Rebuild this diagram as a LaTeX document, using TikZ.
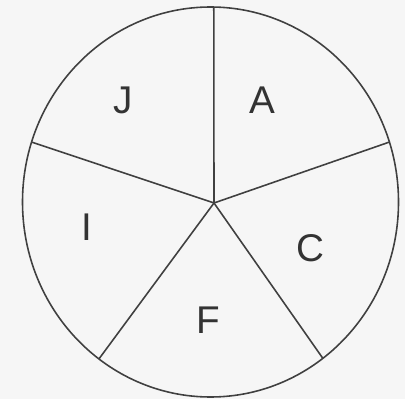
\documentclass[tikz,border=0pt]{standalone}
\usepackage{fontspec}
\setmainfont{Liberation Sans}
\usetikzlibrary{calc}

\begin{document}
\begin{tikzpicture}[x=0.02cm, y=0.02cm, line width=0.9pt]
    \fill[gray!7] (0,0) rectangle (405,399);
    \useasboundingbox (0,0) rectangle (405,399);

    \coordinate (O) at (210.5,197);
    \coordinate (H) at (214,196);

    \coordinate (T) at ($(O)+({188*cos(89)},{195*sin(89)})$);
    \coordinate (R) at ($(O)+({188*cos(17.9)},{195*sin(17.9)})$);
    \coordinate (SR) at ($(O)+({188*cos(-53.3)},{195*sin(-53.3)})$);
    \coordinate (SL) at ($(O)+({188*cos(233.6)},{195*sin(233.6)})$);
    \coordinate (L) at ($(O)+({188*cos(162.1)},{195*sin(162.1)})$);

    \draw[black!75] (O) ellipse [x radius=188, y radius=195];

    \draw[black!75] (H) -- (T);
    \draw[black!75] (H) -- (R);
    \draw[black!75] (H) -- (SR);
    \draw[black!75] (H) -- (SL);
    \draw[black!75] (H) -- (L);

    \node[text=black!80, font=\fontsize{22}{26}\selectfont] (J) at (123,299) {J};
    \node[text=black!80, font=\fontsize{22}{26}\selectfont] (A) at (262,299) {A};
    \node[text=black!80, font=\fontsize{22}{26}\selectfont] (I) at (87,172) {I};
    \node[text=black!80, font=\fontsize{22}{26}\selectfont] (C) at (310,151) {C};
    \node[text=black!80, font=\fontsize{22}{26}\selectfont] (F) at (208,79) {F};
  \end{tikzpicture}
\end{document}
